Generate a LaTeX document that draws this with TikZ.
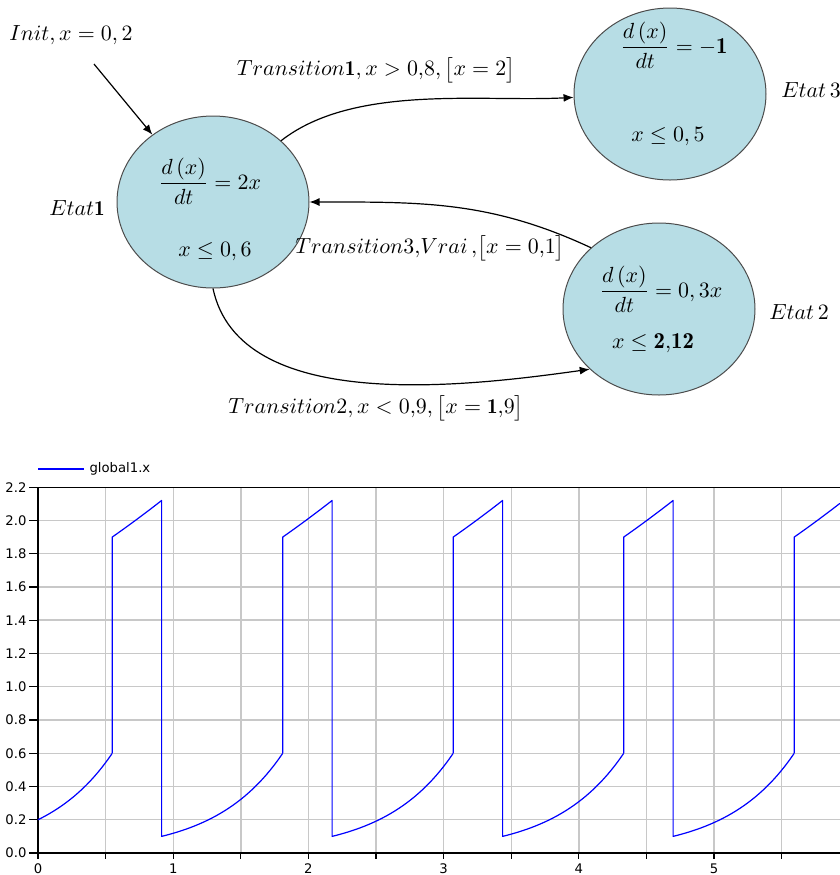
\documentclass[tikz,border=0pt]{standalone}
\usepackage{amsmath}
\usepackage{amssymb}
\usepackage{fontspec}
\newfontfamily\plotfont{DejaVu Sans}
\usetikzlibrary{arrows.meta,shapes.geometric}
\definecolor{etatbleu}{RGB}{183,221,229}
\definecolor{grisgrille}{RGB}{200,200,200}
\newcommand{\taille}{\fontsize{10.6}{12.7}\selectfont}
\newcommand{\tailleetat}{\fontsize{11.4}{13.5}\selectfont}

\begin{document}
\begin{tikzpicture}[x=0.5pt,y=-0.5pt,>={Latex[length=5pt,width=4pt]},font=\taille,
  etat/.style={ellipse,draw=black!70,line width=0.5pt,fill=etatbleu,
    minimum width=96pt,minimum height=86pt,inner sep=0pt},
  dansetat/.style={font=\tailleetat,inner sep=0pt},
  transition/.style={->,line width=0.6pt},
  lignegrille/.style={grisgrille,line width=0.7pt},
  courbe/.style={blue,line width=0.6pt,line join=round},
  graduation/.style={font=\plotfont\fontsize{6.6}{7.5}\selectfont,inner sep=1pt,text=black}]
  \useasboundingbox (0,0) rectangle (840,875);

  % automate
  \node[etat] (etat1) at (213,202) {};
  \node[etat] (etat2) at (659,309) {};
  \node[etat] (etat3) at (670,94) {};
  \node[dansetat] (eq1) at (210,181) {$\dfrac{d\left(x\right)}{dt}=2x$};
  \node[dansetat] (cond1) at (215,252) {$x\le 0,6$};
  \node[dansetat] (eq2) at (661,289) {$\dfrac{d\left(x\right)}{dt}=0,3x$};
  \node[dansetat] (cond2) at (653,343) {$x\le \mathbf{2{,}12}$};
  \node[dansetat] (eq3) at (674,45) {$\dfrac{d\left(x\right)}{dt}=-\mathbf{1}$};
  \node[dansetat] (cond3) at (668,137) {$x\le 0,5$};

  \node (nometat1) at (77,208) {$Etat\mathbf{1}$};
  \node (nometat2) at (799,312) {$Etat\,2$};
  \node (nometat3) at (811,90) {$Etat\,3$};
  \node (init) at (71,35) {$Init, x=0,2$};
  \node (lbltrans1) at (376,70) {$Transition\mathbf{1}, x>0{,}8, \bigl[x=2\bigr]$};
  \node (lbltrans3) at (430,248) {$Transition3{,}Vrai\,{,}\bigl[x=0{,}1\bigr]$};
  \node (lbltrans2) at (376,408) {$Transition2, x<0{,}9, \bigl[x=\mathbf{1}{,}9\bigr]$};

  \coordinate (depart) at (94,64);
  \draw[transition] (depart) -- (etat1.132);
  \draw[transition] (etat1.42) to[out=38,in=183,looseness=0.8] (etat3.182);
  \draw[transition] (etat2.138) to[out=155,in=0] (etat1.east);
  \draw[transition] (etat1.270) to[out=282,in=188,looseness=0.85] (etat2.221);

  % courbe x(t)
  \draw[courbe] (38,469) -- (84,469) node[right,graduation,inner sep=2.5pt] (legende) {global1.x};
  \begin{scope}[shift={(38,853)},x=67.6pt,y=83.15pt]
    \foreach \t in {0.5,1,...,5.5}
      \draw[lignegrille] (\t,0) -- (\t,2.2);
    \foreach \v in {0.2,0.4,0.6,0.8,1.0,1.2,1.4,1.6,1.8,2.0}
      \draw[lignegrille] (0,\v) -- (5.932,\v);
    \draw[line width=0.6pt] (5.932,2.2) -- (0,2.2) -- (0,0) -- (5.932,0);
    \foreach \v in {0.0,0.2,0.4,0.6,0.8,1.0,1.2,1.4,1.6,1.8,2.0,2.2}
      \draw[line width=0.6pt] (0,\v) -- ++(-4.5pt,0)
        node[graduation,anchor=east] {\v};
    \foreach \t in {0,0.5,...,5.5}
      \draw[line width=0.6pt] (\t,0) -- ++(0,-3pt);
    \foreach \t in {0,...,5}
      \node[graduation,anchor=north,inner sep=0pt] at ([yshift=-5pt]\t,0) {\t};
    \draw[courbe] plot[domain=0:0.54931,samples=30] (\x,{0.2*exp(2*\x)});
    \foreach \k [evaluate=\k as \r using 0.54931+1.26109*\k,
                 evaluate=\k as \f using 0.91452+1.26109*\k,
                 evaluate=\k as \e using 1.8104+1.26109*\k] in {0,...,3}
      \draw[courbe] (\r,0.6) -- (\r,1.9)
        -- plot[domain=\r:\f,samples=15] (\x,{1.9*exp(0.3*(\x-\r))})
        -- (\f,0.1)
        -- plot[domain=\f:\e,samples=30] (\x,{0.1*exp(2*(\x-\f))});
    \draw[courbe] (5.59367,0.6) -- (5.59367,1.9)
      -- plot[domain=5.59367:5.932,samples=15] (\x,{1.9*exp(0.3*(\x-5.59367))});
  \end{scope}
\end{tikzpicture}
\end{document}
